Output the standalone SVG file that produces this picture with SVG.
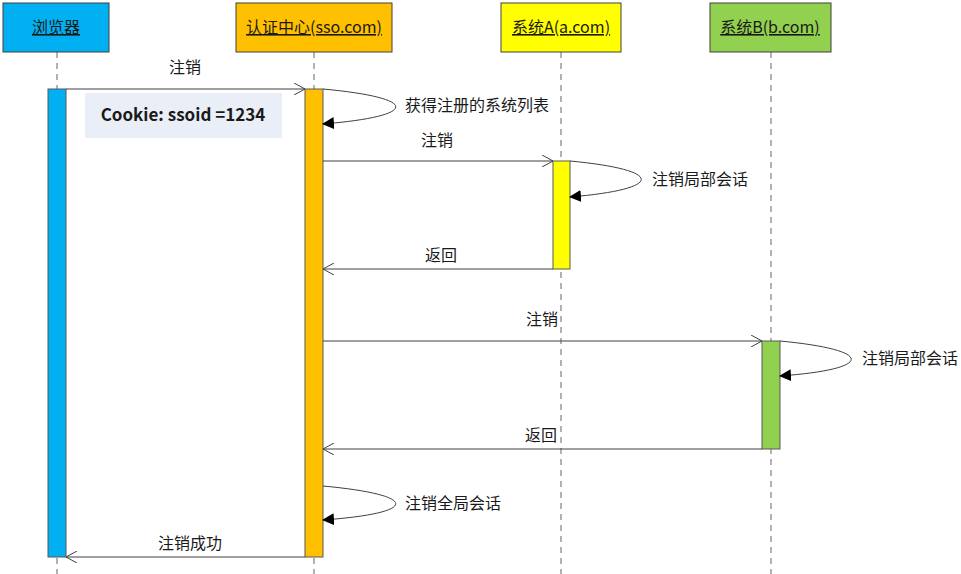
<svg xmlns="http://www.w3.org/2000/svg" width="961" height="574" viewBox="0 0 961 574">
<defs>
<style>
text{font-family:"Noto Sans CJK SC","Liberation Sans",sans-serif;font-size:16px;fill:#1a1a1a}
.hd{font-size:16px;text-decoration:underline;text-anchor:middle}
.box{stroke:#404040;stroke-width:1}
.life{stroke:#808080;stroke-width:1.2;stroke-dasharray:6,5}
.act{stroke:#595959;stroke-width:1}
.msg{fill:none;stroke:#404040;stroke-width:1}
.lab{text-anchor:middle}
</style>
<marker id="open" viewBox="0 0 12 12" refX="11" refY="6" markerWidth="12" markerHeight="12" markerUnits="userSpaceOnUse" orient="auto">
<path d="M0,0 L11,6 L0,12" fill="none" stroke="#404040" stroke-width="1"/>
</marker>
<marker id="fill" viewBox="0 0 12 12" refX="11" refY="6" markerWidth="12" markerHeight="12" markerUnits="userSpaceOnUse" orient="auto">
<path d="M0,0 L12,6 L0,12 Z" fill="#000"/>
</marker>
</defs>
<g id="lifelines">
<line class="life" x1="57" y1="52" x2="57" y2="574"/>
<line class="life" x1="314" y1="52" x2="314" y2="574"/>
<line class="life" x1="561" y1="52" x2="561" y2="574"/>
<line class="life" x1="771" y1="52" x2="771" y2="574"/>
</g>
<g id="browser">
<rect class="box" x="3" y="3" width="106" height="49" fill="#00B0F0"/>
<text class="hd" x="56" y="33">浏览器</text>
<rect class="act" x="48" y="89" width="18" height="468" fill="#00B0F0"/>
</g>
<g id="sso">
<rect class="box" x="236" y="3" width="156" height="49" fill="#FFC000"/>
<text class="hd" x="314" y="33">认证中心(sso.com)</text>
<rect class="act" x="305" y="89" width="18" height="468" fill="#FFC000"/>
</g>
<g id="systemA">
<rect class="box" x="501" y="3" width="120" height="49" fill="#FFFF00"/>
<text class="hd" x="561" y="33">系统A(a.com)</text>
<rect class="act" x="553" y="161" width="17" height="108" fill="#FFFF00"/>
</g>
<g id="systemB">
<rect class="box" x="710" y="3" width="121" height="49" fill="#92D050"/>
<text class="hd" x="770" y="33">系统B(b.com)</text>
<rect class="act" x="762" y="341" width="18" height="108" fill="#92D050"/>
</g>
<g id="cookie">
<rect x="85" y="93" width="197" height="45" fill="#E9EEF7"/>
<text x="183" y="121" text-anchor="middle" style="font-weight:bold;font-size:17px">Cookie: ssoid =1234</text>
</g>
<g id="connectors">
<line class="msg" x1="66" y1="89" x2="305" y2="89" marker-end="url(#open)"/>
<text class="lab" x="185" y="73">注销</text>
<path class="msg" d="M323,89 C420,98 420,116 323,124" marker-end="url(#fill)"/>
<text x="405" y="111">获得注册的系统列表</text>
<line class="msg" x1="323" y1="161" x2="553" y2="161" marker-end="url(#open)"/>
<text class="lab" x="437" y="146">注销</text>
<path class="msg" d="M570,161 C665,170 665,189 570,197" marker-end="url(#fill)"/>
<text x="652" y="185">注销局部会话</text>
<line class="msg" x1="553" y1="269" x2="323" y2="269" marker-end="url(#open)"/>
<text class="lab" x="441" y="261">返回</text>
<line class="msg" x1="323" y1="341" x2="762" y2="341" marker-end="url(#open)"/>
<text class="lab" x="542" y="325">注销</text>
<path class="msg" d="M780,341 C875,350 875,369 780,376" marker-end="url(#fill)"/>
<text x="862" y="364">注销局部会话</text>
<line class="msg" x1="762" y1="449" x2="323" y2="449" marker-end="url(#open)"/>
<text class="lab" x="541" y="441">返回</text>
<path class="msg" d="M323,486 C420,495 420,513 323,520" marker-end="url(#fill)"/>
<text x="405" y="509">注销全局会话</text>
<line class="msg" x1="305" y1="557" x2="66" y2="557" marker-end="url(#open)"/>
<text class="lab" x="190" y="549">注销成功</text>
</g>
</svg>
